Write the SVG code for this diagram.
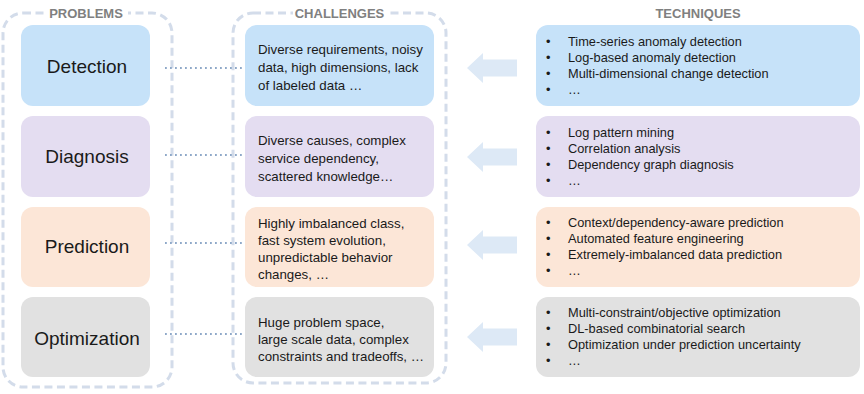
<svg xmlns="http://www.w3.org/2000/svg" width="864" height="394" viewBox="0 0 864 394">
<style>
  .frame{fill:none;stroke:#d3dcea;stroke-width:3;stroke-dasharray:8 4.5}
  .hdr{font-family:"Liberation Sans",Arial,sans-serif;font-weight:bold;font-size:13px;fill:#808080;text-anchor:middle}
  .ptxt{font-family:"Liberation Sans",Arial,sans-serif;font-size:19px;fill:#1a1a1a;text-anchor:middle}
  .ctxt{font-family:"Liberation Sans",Arial,sans-serif;font-size:13.3px;fill:#1a1a1a}
  .ttxt{font-family:"Liberation Sans",Arial,sans-serif;font-size:12.8px;fill:#1a1a1a}
  .det{fill:#c6e2f9}
  .dia{fill:#e4ddf1}
  .pre{fill:#fce6d7}
  .opt{fill:#e1e1e1}
  .dot{stroke:#8ea8c8;stroke-width:2;stroke-dasharray:1.8 3.2;fill:none}
  .arr{fill:#dde9f6}
</style>
<rect x="0" y="0" width="864" height="394" fill="#ffffff"/>

<g id="frames">
  <rect class="frame" x="3" y="13" width="169" height="374" rx="20"/>
  <rect class="frame" x="233" y="13" width="213" height="370" rx="20"/>
  <rect x="44" y="4" width="84" height="18" fill="#ffffff"/>
  <rect x="293" y="4" width="93" height="18" fill="#ffffff"/>
  <text class="hdr" x="86" y="18">PROBLEMS</text>
  <text class="hdr" x="339.5" y="18">CHALLENGES</text>
  <text class="hdr" x="698" y="18">TECHNIQUES</text>
</g>

<g id="connectors">
  <line class="dot" x1="165" y1="68" x2="243" y2="68"/>
  <line class="dot" x1="165" y1="155" x2="243" y2="155"/>
  <line class="dot" x1="165" y1="243" x2="243" y2="243"/>
  <line class="dot" x1="165" y1="334" x2="243" y2="334"/>
  <polygon class="arr" points="467,68 483,53 483,59.5 517,59.5 517,76.5 483,76.5 483,83"/>
  <polygon class="arr" points="467,157 483,142 483,148.5 517,148.5 517,165.5 483,165.5 483,172"/>
  <polygon class="arr" points="467,245 483,230 483,236.5 517,236.5 517,253.5 483,253.5 483,260"/>
  <polygon class="arr" points="467,337 483,322 483,328.5 517,328.5 517,345.5 483,345.5 483,352"/>
</g>

<g id="p-detection">
  <rect class="det" x="21" y="25" width="129" height="81" rx="12"/>
  <text class="ptxt" x="87" y="73">Detection</text>
</g>
<g id="p-diagnosis">
  <rect class="dia" x="21" y="116" width="129" height="81" rx="12"/>
  <text class="ptxt" x="87" y="163">Diagnosis</text>
</g>
<g id="p-prediction">
  <rect class="pre" x="21" y="207" width="129" height="80" rx="12"/>
  <text class="ptxt" x="87" y="253">Prediction</text>
</g>
<g id="p-optimization">
  <rect class="opt" x="21" y="297" width="129" height="80" rx="12"/>
  <text class="ptxt" x="87" y="345">Optimization</text>
</g>

<g id="c-detection">
  <rect class="det" x="245" y="25" width="189" height="81" rx="12"/>
  <text class="ctxt" x="258" y="54">Diverse requirements, noisy</text>
  <text class="ctxt" x="258" y="72">data, high dimensions, lack</text>
  <text class="ctxt" x="258" y="90">of labeled data …</text>
</g>
<g id="c-diagnosis">
  <rect class="dia" x="245" y="116" width="189" height="81" rx="12"/>
  <text class="ctxt" x="258" y="145">Diverse causes, complex</text>
  <text class="ctxt" x="258" y="163">service dependency,</text>
  <text class="ctxt" x="258" y="181">scattered knowledge…</text>
</g>
<g id="c-prediction">
  <rect class="pre" x="245" y="207" width="189" height="80" rx="12"/>
  <text class="ctxt" x="258" y="228">Highly imbalanced class,</text>
  <text class="ctxt" x="258" y="245">fast system evolution,</text>
  <text class="ctxt" x="258" y="262">unpredictable behavior</text>
  <text class="ctxt" x="258" y="279">changes, …</text>
</g>
<g id="c-optimization">
  <rect class="opt" x="245" y="297" width="189" height="80" rx="12"/>
  <text class="ctxt" x="258" y="327">Huge problem space,</text>
  <text class="ctxt" x="258" y="344">large scale data, complex</text>
  <text class="ctxt" x="258" y="361">constraints and tradeoffs, …</text>
</g>

<g id="t-detection">
  <rect class="det" x="536" y="25" width="324" height="81" rx="12"/>
  <text class="ttxt" x="546" y="46">•</text><text class="ttxt" x="568" y="46">Time-series anomaly detection</text>
  <text class="ttxt" x="546" y="62">•</text><text class="ttxt" x="568" y="62">Log-based anomaly detection</text>
  <text class="ttxt" x="546" y="78">•</text><text class="ttxt" x="568" y="78">Multi-dimensional change detection</text>
  <text class="ttxt" x="546" y="94">•</text><text class="ttxt" x="568" y="94">…</text>
</g>
<g id="t-diagnosis">
  <rect class="dia" x="536" y="116" width="324" height="81" rx="12"/>
  <text class="ttxt" x="546" y="137">•</text><text class="ttxt" x="568" y="137">Log pattern mining</text>
  <text class="ttxt" x="546" y="153">•</text><text class="ttxt" x="568" y="153">Correlation analysis</text>
  <text class="ttxt" x="546" y="169">•</text><text class="ttxt" x="568" y="169">Dependency graph diagnosis</text>
  <text class="ttxt" x="546" y="185">•</text><text class="ttxt" x="568" y="185">…</text>
</g>
<g id="t-prediction">
  <rect class="pre" x="536" y="207" width="324" height="80" rx="12"/>
  <text class="ttxt" x="546" y="227">•</text><text class="ttxt" x="568" y="227">Context/dependency-aware prediction</text>
  <text class="ttxt" x="546" y="243">•</text><text class="ttxt" x="568" y="243">Automated feature engineering</text>
  <text class="ttxt" x="546" y="259">•</text><text class="ttxt" x="568" y="259">Extremely-imbalanced data prediction</text>
  <text class="ttxt" x="546" y="275">•</text><text class="ttxt" x="568" y="275">…</text>
</g>
<g id="t-optimization">
  <rect class="opt" x="536" y="297" width="324" height="80" rx="12"/>
  <text class="ttxt" x="546" y="317">•</text><text class="ttxt" x="568" y="317">Multi-constraint/objective optimization</text>
  <text class="ttxt" x="546" y="333">•</text><text class="ttxt" x="568" y="333">DL-based combinatorial search</text>
  <text class="ttxt" x="546" y="349">•</text><text class="ttxt" x="568" y="349">Optimization under prediction uncertainty</text>
  <text class="ttxt" x="546" y="365">•</text><text class="ttxt" x="568" y="365">…</text>
</g>
</svg>
